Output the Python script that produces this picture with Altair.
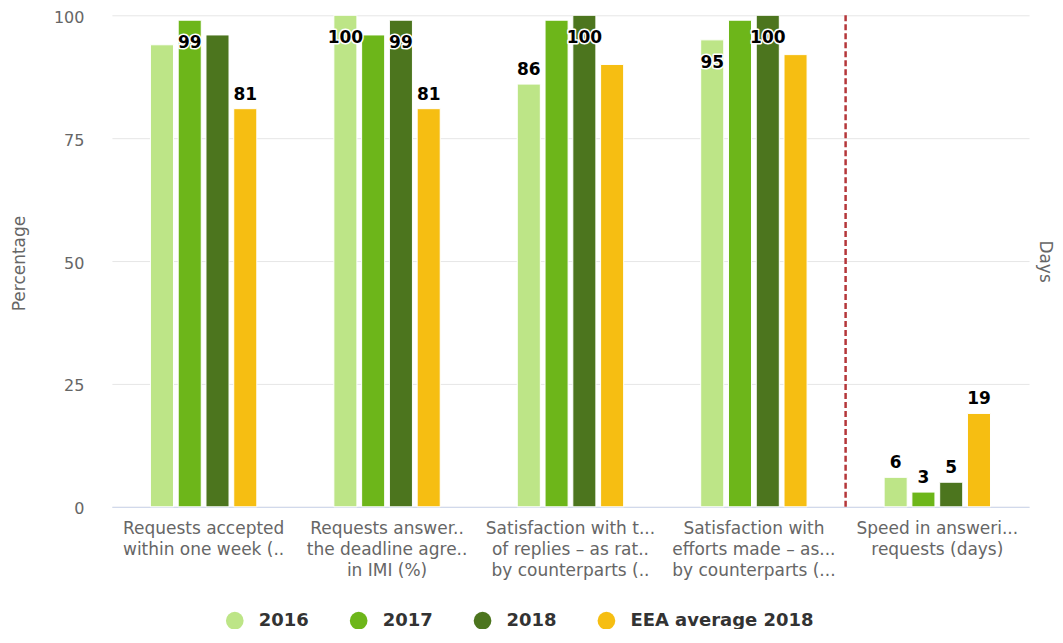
import json
import altair as alt
import pandas as pd

# ---------------- data ----------------
categories = [
    "Requests accepted within one week (%)",
    "Requests answered within the deadline agreed in IMI (%)",
    "Satisfaction with the quality of replies – as rated by counterparts (%)",
    "Satisfaction with efforts made – as rated by counterparts (%)",
    "Speed in answering requests (days)",
]
category_lines = [
    ["Requests accepted", "within one week (.."],
    ["Requests answer..", "the deadline agre..", "in IMI (%)"],
    ["Satisfaction with t...", "of replies – as rat..", "by counterparts (.."],
    ["Satisfaction with", "efforts made – as...", "by counterparts (..."],
    ["Speed in answeri...", "requests (days)"],
]
category_axis = ["Percentage", "Percentage", "Percentage", "Percentage", "Days"]

series = ["2016", "2017", "2018", "EEA average 2018"]
series_colors = ["#bde587", "#6db61a", "#4c751e", "#f6be12"]

values_2016 = [94, 100, 86, 95, 6]
values_2017 = [99, 96, 99, 99, 3]
values_2018 = [96, 99, 100, 100, 5]
values_eea = [81, 81, 90, 92, 19]

# which data labels are visible in the original (others hidden by overlap)
shown_2016 = [False, True, True, True, True]
shown_2017 = [True, False, False, False, True]
shown_2018 = [False, True, True, True, True]
shown_eea = [True, True, False, False, True]

y_ticks = [0, 25, 50, 75, 100]
divider_category = categories[4]

# ---------------- table ----------------
rows = []
for s, vals, shows in zip(series,
                          [values_2016, values_2017, values_2018, values_eea],
                          [shown_2016, shown_2017, shown_2018, shown_eea]):
    for i, c in enumerate(categories):
        rows.append({"category": c, "series": s, "value": vals[i],
                     "axis": category_axis[i], "show": shows[i]})
df = pd.DataFrame(rows)
divider_df = pd.DataFrame({"category": [divider_category]})

# label expression for wrapped / truncated x labels
expr = "datum.value"
for c, lines in reversed(list(zip(categories, category_lines))):
    expr = f"datum.value == {json.dumps(c)} ? {json.dumps(lines)} : ({expr})"

FONT = "DejaVu Sans"
W, H = 918, 492
BAND = W / len(categories)
GROUP_SPAN = 111.2

x_axis = alt.Axis(title=None, labelExpr=expr, labelAngle=0, labelFontSize=17,
                  labelColor="#666666", labelLineHeight=21, labelPadding=14,
                  labelBaseline="top", labelOverlap=False, labelBound=False,
                  labelLimit=400, ticks=False, domainColor="#ccd6eb",
                  domainWidth=1, grid=False)
x_scale = alt.Scale(paddingInner=0, paddingOuter=0)


def x_enc(**kw):
    return alt.X("category:N", sort=categories, scale=x_scale, axis=x_axis, **kw)


xoff = alt.XOffset("series:N", sort=series,
                   scale=alt.Scale(range=[BAND / 2 - GROUP_SPAN / 2, BAND / 2 + GROUP_SPAN / 2],
                                   paddingInner=0.17, paddingOuter=0.085))
color = alt.Color("series:N", sort=series,
                  scale=alt.Scale(domain=series, range=series_colors),
                  legend=alt.Legend(title=None, orient="none", direction="horizontal",
                                    legendX=114, legendY=597, symbolType="circle",
                                    symbolSize=314, symbolStrokeWidth=0,
                                    symbolOpacity=1, labelFontSize=18,
                                    labelFontWeight="bold", labelColor="#333333",
                                    labelFont=FONT, labelLimit=400,
                                    columnPadding=40, labelOffset=15, padding=0))

left_axis = alt.Axis(title="Percentage", values=y_ticks, grid=True,
                     gridColor="#e6e6e6", domain=False, ticks=False,
                     labelFontSize=16, labelColor="#666666", labelPadding=28,
                     labelOffset=2,
                     titleFontSize=17, titleFontWeight="normal",
                     titleColor="#666666", titleX=-92, titleY=H / 2 + 2,
                     titleAngle=-90, titleAlign="center", titleBaseline="middle")
right_axis = alt.Axis(title="Days", orient="right", labels=False, grid=False,
                      domain=False, ticks=False, titleFontSize=17,
                      titleFontWeight="normal", titleColor="#666666",
                      titleX=15, titleY=H / 2, titleAngle=90,
                      titleAlign="center", titleBaseline="middle")


def group(axis_name, y_axis, extra=None):
    base = alt.Chart(df).transform_filter(alt.datum.axis == axis_name)
    y = alt.Y("value:Q", scale=alt.Scale(domain=[0, 100]), axis=y_axis)
    layers = []
    if extra is not None:
        layers.append(extra(y_axis))
    layers.append(base.mark_bar(stroke="white", strokeWidth=1).encode(
        x=x_enc(), xOffset=xoff, y=y, color=color))
    lab = base.transform_filter(alt.datum.show)
    for flt, dy in [(alt.datum.value < 90, -9), (alt.datum.value >= 90, 28)]:
        sub = lab.transform_filter(flt)
        common = dict(baseline="alphabetic", align="center", dy=dy,
                      fontSize=17, fontWeight="bold", font=FONT)
        layers.append(sub.mark_text(fill="white", stroke="white", strokeWidth=3,
                                    strokeJoin="round", **common).encode(
            x=x_enc(), xOffset=xoff, y=y, text="value:Q"))
        layers.append(sub.mark_text(fill="black", **common).encode(
            x=x_enc(), xOffset=xoff, y=y, text="value:Q"))
    return alt.layer(*layers)


def divider(y_axis):
    return alt.Chart(divider_df).mark_rule(
        color="#b5373a", strokeWidth=2.5, strokeDash=[6, 3]).encode(
        x=x_enc(bandPosition=0),
        y=alt.YDatum(0, scale=alt.Scale(domain=[0, 100]), axis=y_axis),
        y2=alt.Y2Datum(100))


left = group("Percentage", left_axis, extra=divider)
right = group("Days", right_axis)

chart = alt.layer(left, right).resolve_scale(y="independent").properties(
    width=W, height=H,
    autosize=alt.AutoSizeParams(type="none"),
    padding={"left": 104, "top": 7, "right": 26, "bottom": 122},
).configure(font=FONT).configure_view(stroke=None)

chart.save("out.html", embed_options={"renderer": "svg", "actions": False})
